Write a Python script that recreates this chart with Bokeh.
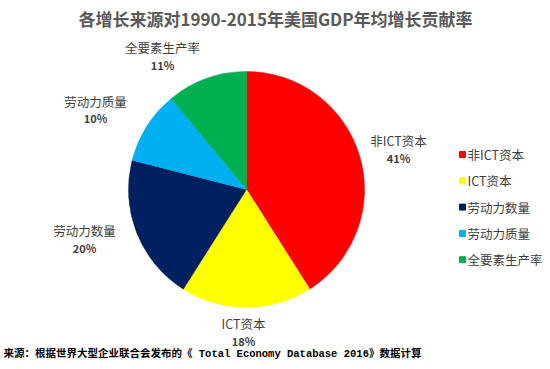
import math
from bokeh.plotting import figure
from bokeh.models import Range1d, ColumnDataSource
from bokeh.core.properties import value
from bokeh.embed import file_html
from bokeh.resources import INLINE

# ---- data ----
title_text = "各增长来源对1990-2015年美国GDP年均增长贡献率"
source_text = "来源：根据世界大型企业联合会发布的《 Total Economy Database 2016》数据计算"
categories = ["非ICT资本", "ICT资本", "劳动力数量", "劳动力质量", "全要素生产率"]
shares = [41, 18, 20, 10, 11]
pct_labels = ["41%", "18%", "20%", "10%", "11%"]

# ---- styles ----
colors = ["#FF0000", "#FFFF00", "#002060", "#00B0F0", "#00B050"]
W, H = 550, 369
cx, cy = 246, 180
radius = 118
label_dx = [152, -3, -162, -151, -84]
label_dy = [40.5, -142.5, -49.5, 80, 133.5]

p = figure(width=W, height=H, output_backend="svg", toolbar_location=None,
           x_range=Range1d(0, W), y_range=Range1d(0, H), min_border=0)
p.axis.visible = False
p.grid.visible = False
p.outline_line_color = None
p.background_fill_color = "white"

total = sum(shares)
starts, ends = [], []
cum = 0
for s in shares:
    starts.append(math.pi / 2 - 2 * math.pi * cum / total)
    cum += s
    ends.append(math.pi / 2 - 2 * math.pi * cum / total)

src = ColumnDataSource(dict(x=[cx] * len(shares), y=[cy] * len(shares),
                            start=starts, end=ends, color=colors))
p.wedge(x="x", y="y", radius=radius, radius_units="screen",
        start_angle="start", end_angle="end", direction="clock",
        fill_color="color", line_color="color", line_width=0.5, source=src)

lx = [cx + d for d in label_dx]
ly = [cy + d for d in label_dy]
p.text(x=lx, y=[v + 8.5 for v in ly], text=categories, text_align="center",
       text_baseline="middle", text_font=value("Noto Sans CJK SC"),
       text_font_size="12.5px", text_color="#404040")
p.text(x=lx, y=[v - 8.5 for v in ly], text=pct_labels, text_align="center",
       text_baseline="middle", text_font=value("Noto Sans CJK SC"),
       text_font_size="11px", text_font_style="bold", text_color="#404040")

# legend
leg_x = 462
leg_y0 = H - 154
leg_step = 26.3
leg_y = [leg_y0 - i * leg_step for i in range(len(categories))]
p.scatter(x=[leg_x] * len(categories), y=leg_y, marker="square", size=6,
          fill_color=colors, line_color=colors)
p.text(x=[leg_x + 5] * len(categories), y=leg_y, text=categories,
       text_align="left", text_baseline="middle",
       text_font=value("Noto Sans CJK SC"), text_font_size="12.5px",
       text_color="#404040")

# title
p.text(x=[275], y=[H - 18], text=[title_text], text_align="center",
       text_baseline="middle", text_font=value("Noto Sans CJK SC"),
       text_font_size="17px", text_font_style="bold", text_color="#595959")

# source note
p.text(x=[3], y=[H - 353], text=[source_text], text_align="left",
       text_baseline="middle", text_font=value("Liberation Mono, Noto Sans CJK SC"),
       text_font_size="10.5px", text_font_style="bold", text_color="#000000")

open("out.html", "w").write(file_html(p, INLINE))
